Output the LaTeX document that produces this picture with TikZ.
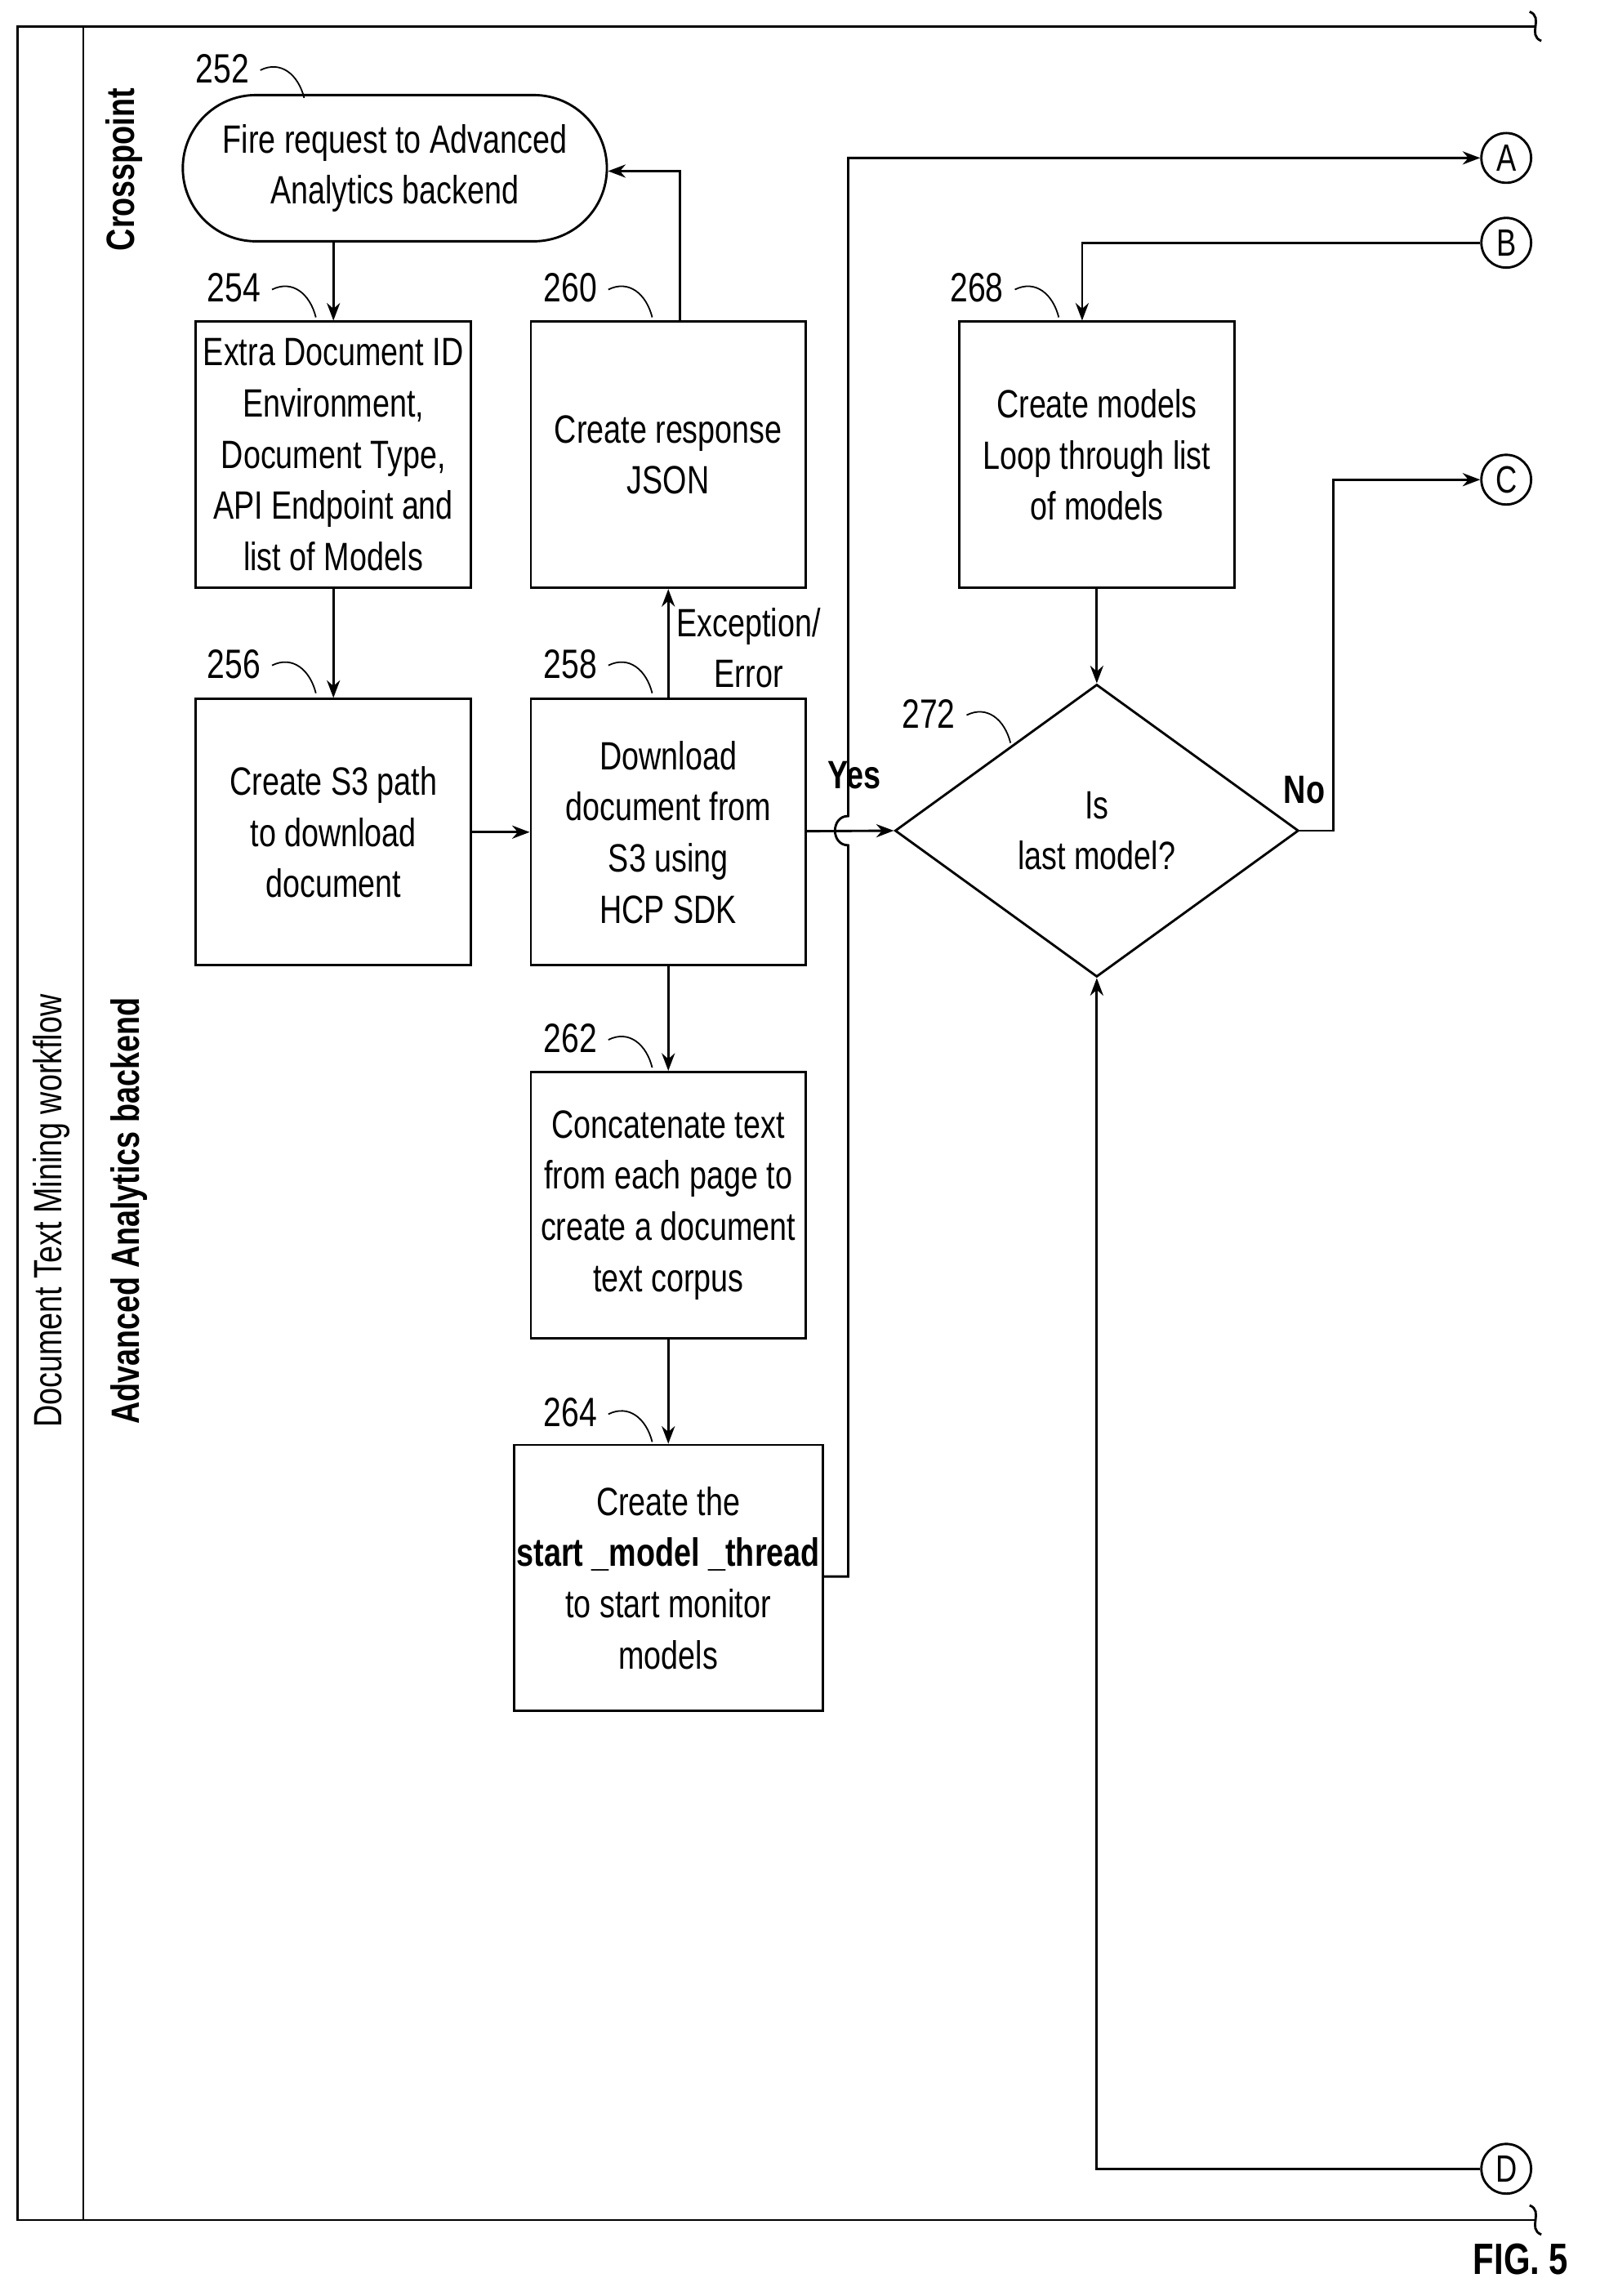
\documentclass[tikz,border=0pt]{standalone}
\usepackage{fontspec}
\setmainfont{Liberation Sans}[FakeStretch=0.78]
\usetikzlibrary{shapes.geometric,arrows.meta}
\begin{document}
\begin{tikzpicture}[x=1pt,y=-1pt,
  box/.style={draw,line width=1.6pt,minimum width=188pt,minimum height=182pt,align=center,font=\fontsize{27}{35}\selectfont,inner sep=2pt},
  lab/.style={font=\fontsize{28}{30}\selectfont},
  ln/.style={line width=1.6pt},
  arr/.style={ln,-{Stealth[length=12pt,width=9pt]}},
  circ/.style={draw,circle,line width=1.6pt,minimum size=34pt,inner sep=0pt,font=\fontsize{26}{28}\selectfont}]
\useasboundingbox (0,0) rectangle (1100,1570);
% frame
\draw[ln] (1050,18) -- (12,18) -- (12,1518) -- (1050,1518);
\draw[ln] (57,18) -- (57,1518);
\draw[ln] (1046,8) .. controls (1056,12) and (1044,24) .. (1054,28);
\draw[ln] (1046,1508) .. controls (1056,1512) and (1044,1524) .. (1054,1528);
\node[rotate=90,font=\fontsize{27}{30}\selectfont] (t0) at (35,828) {Document Text Mining workflow};
\node[rotate=90,font=\bfseries\fontsize{27}{30}\selectfont] (t1) at (85,116) {Crosspoint};
\node[rotate=90,font=\bfseries\fontsize{27}{30}\selectfont] (t2) at (88,828) {Advanced Analytics backend};
% nodes
\node[draw,line width=1.6pt,rounded corners=50pt,minimum width=290pt,minimum height=100pt,align=center,font=\fontsize{27}{35}\selectfont] (n252) at (270,115) {Fire request to Advanced\\Analytics backend};
\node[box] (n254) at (228,311) {Extra Document ID\\Environment,\\Document Type,\\API Endpoint and\\list of Models};
\node[box] (n256) at (228,569) {Create S3 path\\to download\\document};
\node[box] (n258) at (457,569) {Download\\document from\\S3 using\\HCP SDK};
\node[box] (n260) at (457,311) {Create response\\JSON};
\node[box] (n262) at (457,824) {Concatenate text\\from each page to\\create a document\\text corpus};
\node[box] (n264) at (457,1079) {Create the\\\textbf{start \_model \_thread}\\to start monitor\\models};
\node[box] (n268) at (750,311) {Create models\\Loop through list\\of models};
\node[draw,diamond,line width=1.6pt,minimum width=276pt,minimum height=200pt,aspect=1.38,inner sep=0pt,align=center,font=\fontsize{27}{35}\selectfont] (n272) at (750,568) {Is\\last model?};
\node[circ] (A) at (1030,108) {A};
\node[circ] (B) at (1030,166) {B};
\node[circ] (C) at (1030,328) {C};
\node[circ] (D) at (1030,1483) {D};
% ref labels
\foreach \t/\x/\y in {252/152/47,254/160/197,256/160/454,258/390/454,260/390/197,262/390/710,264/390/966,268/668/197,272/635/488}{
  \node[lab] (r\t) at (\x,\y) {\t};
  \draw[line width=1pt] (\x+26,\y+1) .. controls (\x+40,\y-6) and (\x+52,\y+4) .. (\x+56,\y+20);
}
% connectors
\draw[arr] (n252.south -| n254) -- (n254.north);
\draw[arr] (n254) -- (n256);
\draw[arr] (n256) -- (n258);
\draw[arr] (n258) -- (n262);
\draw[arr] (n262) -- (n264);
\draw[arr] (n258) -- (n260);
\node[font=\fontsize{27}{35}\selectfont,align=center] (ex) at (512,443) {Exception/\\Error};
\coordinate (c1) at (465,117);
\draw[arr] (n260.north -| c1) -- (c1) -- (n252.east |- c1);
\draw[arr] (n258) -- (n272.west);
\node[font=\bfseries\fontsize{27}{30}\selectfont] (yes) at (584,530) {Yes};
\coordinate (h1) at (580,1078);
\draw[arr] (n264.east |- h1) -- (h1) -- (580,578) .. controls (568,578) and (568,558) .. (580,558) -- (580,108) -- (A.west);
\coordinate (b1) at (740,166);
\draw[arr] (B.west) -- (b1) -- (b1 |- n268.north);
\draw[arr] (n268) -- (n272.north);
\coordinate (k1) at (912,568);
\draw[arr] (n272.east) -- (k1) -- (912,328) -- (C.west);
\node[font=\bfseries\fontsize{27}{30}\selectfont] (no) at (892,540) {No};
\coordinate (d1) at (750,1483);
\draw[arr] (D.west) -- (d1) -- (n272.south);
\node[font=\bfseries\fontsize{30}{32}\selectfont] (fig) at (1040,1545) {FIG. 5};
\end{tikzpicture}
\end{document}
